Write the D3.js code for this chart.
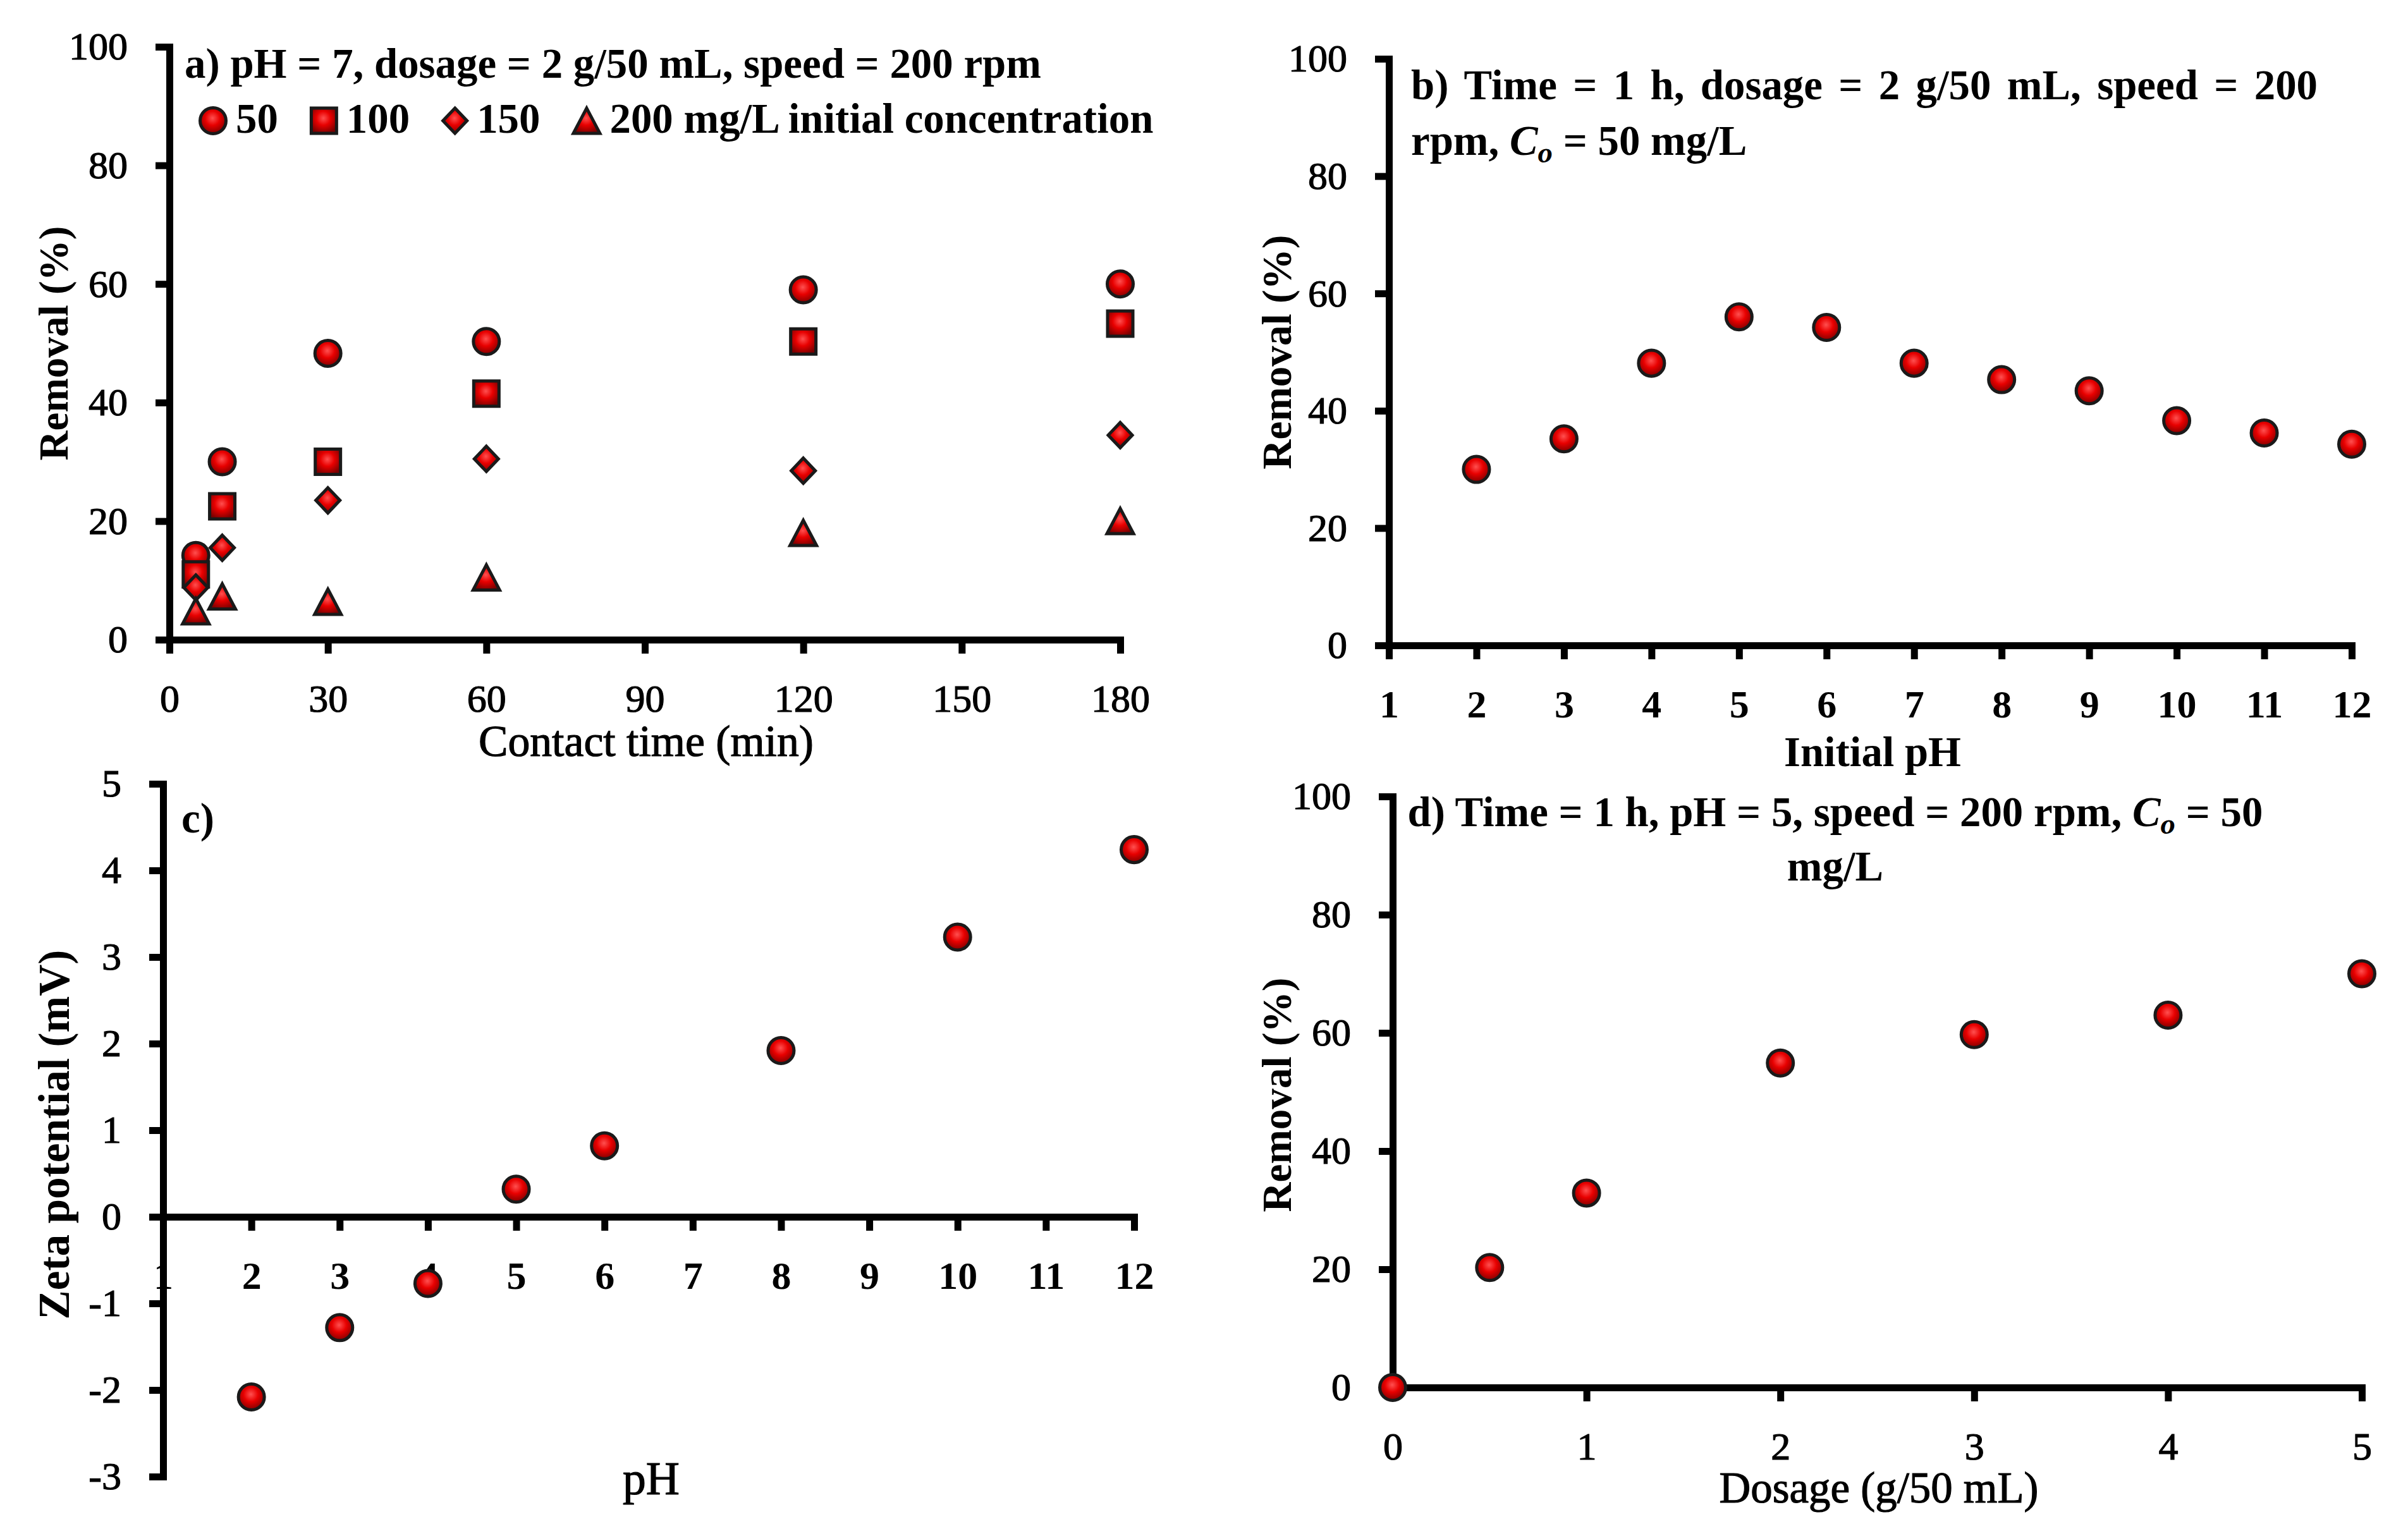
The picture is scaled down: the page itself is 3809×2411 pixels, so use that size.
<!DOCTYPE html>
<html>
<head>
<meta charset="utf-8">
<script src="https://cdn.jsdelivr.net/npm/d3@7"></script>
<style>
  html, body { margin: 0; padding: 0; background: #fff; }
  svg { display: block; }
</style>
</head>
<body>
<svg id="chart" width="3809" height="2411"></svg>
<script>
/* a) contact time, removal (%) per initial concentration */
var contactTime = [5, 10, 30, 60, 120, 180];
var removal50 = [14.2, 30, 48.3, 50.3, 59, 60];
var removal100 = [11, 22.5, 30, 41.5, 50.3, 53.3];
var removal150 = [8.8, 15.5, 23.5, 30.5, 28.5, 34.5];
var removal200 = [4.8, 7.3, 6.4, 10.5, 18, 20];
var concLabels = ["50", "100", "150", "200 mg/L initial concentration"];
var timeTicks = [0, 30, 60, 90, 120, 150, 180];
var removalTicks = [0, 20, 40, 60, 80, 100];

/* b) initial pH */
var initialPH = [2, 3, 4, 5, 6, 7, 8, 9, 10, 11, 12];
var removalPH = [30, 35.2, 48.1, 56, 54.2, 48.1, 45.3, 43.4, 38.3, 36.2, 34.3];
var phTicks = [1, 2, 3, 4, 5, 6, 7, 8, 9, 10, 11, 12];

/* c) zeta potential */
var zetaPH = [2, 3, 4, 5, 6, 8, 10, 12];
var zetaMV = [-2.08, -1.28, -0.77, 0.32, 0.82, 1.92, 3.23, 4.24];
var zetaTicks = [-3, -2, -1, 0, 1, 2, 3, 4, 5];

/* d) dosage */
var dosage = [0, 0.5, 1, 2, 3, 4, 5];
var removalDose = [0, 20.3, 32.9, 54.9, 59.7, 63, 70];
var dosageTicks = [0, 1, 2, 3, 4, 5];

var FONT = "'Liberation Serif', 'Times New Roman', serif";
var TICK_FONT = 62;

var svg = d3.select("#chart");
svg.append("rect").attr("width", 3809).attr("height", 2411).attr("fill", "#ffffff");

// glossy red marker fill
var grad = svg.append("defs").append("radialGradient")
    .attr("id", "redBall")
    .attr("cx", "48%").attr("cy", "40%").attr("r", "62%");
grad.append("stop").attr("offset", "0%").attr("stop-color", "#ff5050");
grad.append("stop").attr("offset", "45%").attr("stop-color", "#e80000");
grad.append("stop").attr("offset", "100%").attr("stop-color", "#7a0000");

// marker shapes, "size" is the width of the shape
var shapes = {
    circle: { draw: function(ctx, w) { ctx.moveTo(w / 2, 0); ctx.arc(0, 0, w / 2, 0, 2 * Math.PI); } },
    square: { draw: function(ctx, w) { ctx.rect(-w / 2, -w / 2, w, w); } },
    diamond: { draw: function(ctx, w) {
        var h = w * 1.05;
        ctx.moveTo(0, -h / 2); ctx.lineTo(w / 2, 0); ctx.lineTo(0, h / 2); ctx.lineTo(-w / 2, 0); ctx.closePath();
    } },
    triangle: { draw: function(ctx, w) {
        var h = w * 0.95;
        ctx.moveTo(0, -h / 2); ctx.lineTo(w / 2, h / 2); ctx.lineTo(-w / 2, h / 2); ctx.closePath();
    } }
};
var shapeWidth = { circle: 41, square: 40, diamond: 38, triangle: 42 };

function marker(sel, kind) {
    sel.attr("d", d3.symbol().type(shapes[kind]).size(shapeWidth[kind]))
        .attr("fill", "url(#redBall)")
        .attr("stroke", "#1a1a1a")
        .attr("stroke-width", 5)
        .attr("stroke-linejoin", "miter");
}

function fitText(sel, target) {
    var w = sel.node().getComputedTextLength();
    var fs = parseFloat(sel.attr("font-size")) * target / w;
    sel.attr("font-size", fs);
    return fs;
}

// regular Liberation looks thin next to the original, thicken it a little
function heavier(sel) {
    sel.attr("stroke", "#000").attr("stroke-width", 1.2);
}

function styleAxis(g, bold) {
    g.attr("font-family", FONT).attr("font-size", TICK_FONT)
        .attr("font-weight", bold ? "bold" : "normal");
    g.select(".domain").attr("stroke", "#000").attr("stroke-width", 11).attr("stroke-linecap", "square");
    g.selectAll(".tick line").attr("stroke", "#000").attr("stroke-width", 11);
    g.selectAll(".tick text").attr("fill", "#000");
    if (!bold) heavier(g.selectAll(".tick text"));
}

function drawAxes(x, y, xTicks, yTicks, xAt, xBold) {
    var yAxis = svg.append("g")
        .attr("transform", "translate(" + x.range()[0] + ",0)")
        .call(d3.axisLeft(y).tickValues(yTicks).tickSize(22).tickPadding(44).tickSizeOuter(0)
            .tickFormat(function(d) { return String(d); }));
    styleAxis(yAxis, false);

    var xAxis = svg.append("g")
        .attr("transform", "translate(0," + y(xAt) + ")")
        .call(d3.axisBottom(x).tickValues(xTicks).tickSize(22).tickPadding(48).tickSizeOuter(0)
            .tickFormat(function(d) { return String(d); }));
    styleAxis(xAxis, xBold);
}

function axisTitle(txt, cx, cy, rotate, bold, width) {
    var t = svg.append("text")
        .attr("font-family", FONT)
        .attr("font-weight", bold ? "bold" : "normal")
        .attr("font-size", 60)
        .attr("text-anchor", "middle")
        .attr("fill", "#000")
        .text(txt);
    if (!bold) heavier(t);
    if (rotate) {
        t.attr("dominant-baseline", "central")
            .attr("transform", "translate(" + cx + "," + cy + ") rotate(-90)");
    } else {
        t.attr("x", cx).attr("y", cy);
    }
    if (width) fitText(t, width);
    return t;
}

function dots(x, y, xs, ys, kind) {
    svg.append("g").selectAll("path")
        .data(xs.map(function(v, i) { return { x: v, y: ys[i] }; }))
        .enter().append("path")
        .attr("transform", function(d) { return "translate(" + x(d.x) + "," + y(d.y) + ")"; })
        .call(marker, kind);
}

/* ---------- a) ---------- */
var xA = d3.scaleLinear().domain([0, 180]).range([268, 1772]);
var yA = d3.scaleLinear().domain([0, 100]).range([1012, 74]);
drawAxes(xA, yA, timeTicks, removalTicks, 0, false);

var seriesA = [
    { values: removal50, kind: "circle" },
    { values: removal100, kind: "square" },
    { values: removal150, kind: "diamond" },
    { values: removal200, kind: "triangle" }
];
seriesA.forEach(function(s) { dots(xA, yA, contactTime, s.values, s.kind); });

var titleA = svg.append("text")
    .attr("x", 292).attr("y", 123)
    .attr("font-family", FONT).attr("font-weight", "bold").attr("font-size", 60)
    .attr("fill", "#000")
    .text("a) pH = 7, dosage = 2 g/50 mL, speed = 200 rpm");
var TITLE_FONT = fitText(titleA, 1355);

// legend row
var lx = 314;
seriesA.forEach(function(s, i) {
    var w = shapeWidth[s.kind] + 5;
    svg.append("path")
        .attr("transform", "translate(" + (lx + w / 2) + ",191)")
        .call(marker, s.kind);
    lx += w + 13;
    var t = svg.append("text")
        .attr("x", lx).attr("y", 210)
        .attr("font-family", FONT).attr("font-weight", "bold").attr("font-size", TITLE_FONT)
        .attr("fill", "#000")
        .text(concLabels[i]);
    lx += t.node().getComputedTextLength() + 50;
});

axisTitle("Removal (%)", 85, 543, true, true, 371);
axisTitle("Contact time (min)", 1022, 1196, false, false, 530);

/* ---------- b) ---------- */
var xB = d3.scaleLinear().domain([1, 12]).range([2197, 3720]);
var yB = d3.scaleLinear().domain([0, 100]).range([1021, 93]);
drawAxes(xB, yB, phTicks, removalTicks, 0, true);
dots(xB, yB, initialPH, removalPH, "circle");

var b1 = svg.append("text")
    .attr("x", 2232).attr("y", 157)
    .attr("font-family", FONT).attr("font-weight", "bold").attr("font-size", TITLE_FONT)
    .attr("fill", "#000")
    .text("b) Time = 1 h, dosage = 2 g/50 mL, speed = 200");
// justified first line
var b1w = b1.node().getComputedTextLength();
b1.attr("word-spacing", (1434 - b1w) / 12);

var b2 = svg.append("text")
    .attr("x", 2232).attr("y", 245)
    .attr("font-family", FONT).attr("font-weight", "bold").attr("font-size", TITLE_FONT)
    .attr("fill", "#000");
b2.append("tspan").text("rpm, ");
b2.append("tspan").attr("font-style", "italic").text("C");
b2.append("tspan").attr("font-style", "italic").attr("font-size", TITLE_FONT * 0.7).attr("dy", 12).text("o");
b2.append("tspan").attr("dy", -12).text(" = 50 mg/L");

axisTitle("Removal (%)", 2020, 557, true, true, 371);
axisTitle("Initial pH", 2962, 1212, false, true, 280);

/* ---------- c) ---------- */
var xC = d3.scaleLinear().domain([1, 12]).range([258, 1794]);
var yC = d3.scaleLinear().domain([-3, 5]).range([2336, 1240]);
drawAxes(xC, yC, phTicks, zetaTicks, 0, true);
dots(xC, yC, zetaPH, zetaMV, "circle");

svg.append("text")
    .attr("x", 287).attr("y", 1317)
    .attr("font-family", FONT).attr("font-weight", "bold").attr("font-size", TITLE_FONT)
    .attr("fill", "#000")
    .text("c)");

axisTitle("Zeta potential (mV)", 85, 1795, true, true, 585);
axisTitle("pH", 1030, 2364, false, false, 90);

/* ---------- d) ---------- */
var xD = d3.scaleLinear().domain([0, 5]).range([2203, 3736]);
var yD = d3.scaleLinear().domain([0, 100]).range([2195, 1260]);
drawAxes(xD, yD, dosageTicks, removalTicks, 0, false);
dots(xD, yD, dosage, removalDose, "circle");

var d1 = svg.append("text")
    .attr("x", 2903).attr("y", 1307)
    .attr("text-anchor", "middle")
    .attr("font-family", FONT).attr("font-weight", "bold").attr("font-size", TITLE_FONT)
    .attr("fill", "#000");
d1.append("tspan").text("d) Time = 1 h, pH = 5, speed = 200 rpm, ");
d1.append("tspan").attr("font-style", "italic").text("C");
d1.append("tspan").attr("font-style", "italic").attr("font-size", TITLE_FONT * 0.7).attr("dy", 12).text("o");
d1.append("tspan").attr("dy", -12).text(" = 50");

svg.append("text")
    .attr("x", 2903).attr("y", 1393)
    .attr("text-anchor", "middle")
    .attr("font-family", FONT).attr("font-weight", "bold").attr("font-size", TITLE_FONT)
    .attr("fill", "#000")
    .text("mg/L");

axisTitle("Removal (%)", 2020, 1732, true, true, 371);
axisTitle("Dosage (g/50 mL)", 2972, 2377, false, false, 505);
</script>
</body>
</html>
